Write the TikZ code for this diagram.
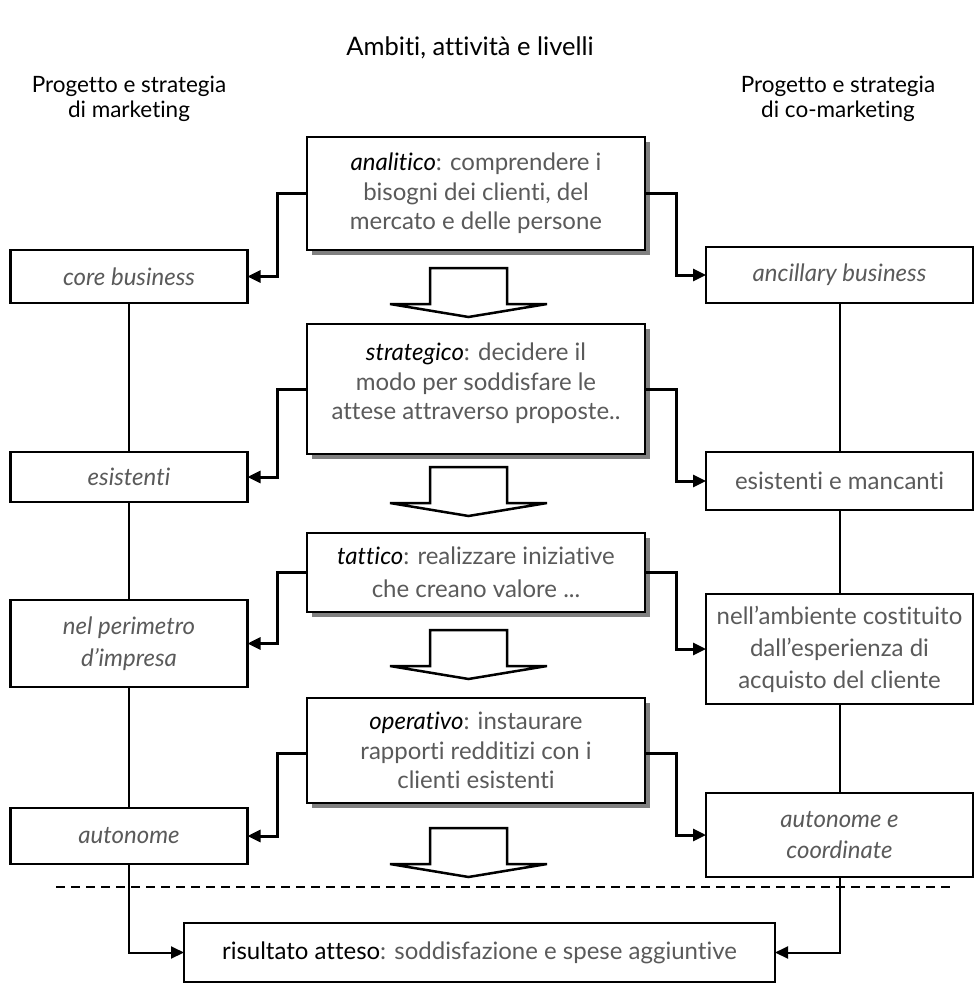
\documentclass[tikz,border=0pt]{standalone}
\usepackage{fontspec}
\setmainfont{Lato}[Ligatures=NoCommon]
\usetikzlibrary{arrows.meta,shadows}
\definecolor{txt}{HTML}{5A5A5A}
\definecolor{shd}{HTML}{808080}
\begin{document}
\begin{tikzpicture}[x=1pt,y=-1pt,
  every node/.style={inner sep=0pt, outer sep=0pt, align=center, text=txt, font=\fontsize{24}{29.5}\selectfont},
  mainbox/.style={draw=black, line width=2.8pt, fill=white, minimum width=338pt,
    general shadow={fill=shd, shadow xshift=5pt, shadow yshift=-5pt}},
  sidebox/.style={draw=black, line width=2.4pt, fill=white},
  lbox/.style={sidebox, minimum width=237pt},
  rbox/.style={sidebox, minimum width=267pt},
  conn/.style={line width=3pt, -{Triangle[length=13pt,width=12pt]}},
  vline/.style={line width=2pt},
  rconn/.style={line width=2pt, -{Triangle[length=13pt,width=12pt]}},
  head/.style={text=black},
  blockarr/.pic={\draw[line width=2.5pt, fill=white, line join=miter]
     (-38.5,0) -- (38.5,0) -- (38.5,36) -- (78.5,36) -- (0,49) -- (-78.5,36) -- (-38.5,36) -- cycle;}
]
\useasboundingbox (0,0) rectangle (978,984);

% title and headers
\node[head, font=\fontsize{25.5}{30}\selectfont] (title) at (470,48) {Ambiti, attività e livelli};
\node[head, font=\fontsize{22.5}{25}\selectfont] (hl) at (129,99) {Progetto e strategia\\di marketing};
\node[head, font=\fontsize{22.5}{25}\selectfont] (hr) at (838,99) {Progetto e strategia\\di co-marketing};

% central boxes
\node[mainbox, minimum height=113pt] (b1) at (476,193.5)
  {\textit{\textcolor{black}{analitico}}: comprendere i\\bisogni dei clienti, del\\mercato e delle persone};
\node[mainbox, minimum height=130pt] (b2) at (476,389)
  {\textit{\textcolor{black}{strategico}}: decidere il\\modo per soddisfare le\\attese attraverso proposte..\\[-14pt]\mbox{}};
\node[mainbox, minimum height=79pt, font=\fontsize{24}{33}\selectfont] (b3) at (476,572.5)
  {\textit{\textcolor{black}{tattico}}: realizzare iniziative\\che creano valore ...};
\node[mainbox, minimum height=105pt] (b4) at (476,750.5)
  {\textit{\textcolor{black}{operativo}}: instaurare\\rapporti redditizi con i\\clienti esistenti};

% block arrows
\pic at (468.5,268) {blockarr};
\pic at (468.5,467) {blockarr};
\pic at (468.5,630) {blockarr};
\pic at (468.5,828) {blockarr};

% left boxes
\node[lbox, minimum height=53pt] (l1) at (129,276.5) {\textit{core business}};
\node[lbox, minimum height=50pt] (l2) at (129,477) {\textit{esistenti}};
\node[lbox, minimum height=87pt, font=\fontsize{24}{32}\selectfont] (l3) at (129,643.5) {\textit{nel perimetro}\\\textit{d’impresa}};
\node[lbox, minimum height=56pt] (l4) at (129,836) {\textit{autonome}};

% right boxes
\node[rbox, minimum height=56pt] (r1) at (839.5,275) {\textit{ancillary business}};
\node[rbox, minimum height=58pt] (r2) at (839.5,481) {esistenti e mancanti};
\node[rbox, minimum height=110pt, font=\fontsize{24}{32}\selectfont] (r3) at (839.5,649) {nell’ambiente costituito\\dall’esperienza di\\acquisto del cliente};
\node[rbox, minimum height=84pt, font=\fontsize{24}{31}\selectfont] (r4) at (839.5,835) {\textit{autonome e}\\\textit{coordinate}};

% result box
\node[sidebox, minimum width=591pt, minimum height=59pt] (res) at (479.5,952.5)
  {\textcolor{black}{risultato atteso}: soddisfazione e spese aggiuntive};

% dashed separator
\draw[line width=2pt, dash pattern=on 9pt off 6pt] (56,887) -- (952,887);

% vertical links between side boxes
\draw[vline] (l1.south) -- (l2.north);
\draw[vline] (l2.south) -- (l3.north);
\draw[vline] (l3.south) -- (l4.north);
\draw[vline] (r1.south) -- (r2.north);
\draw[vline] (r2.south) -- (r3.north);
\draw[vline] (r3.south) -- (r4.north);

% elbow connectors
\draw[conn] (b1.west) -- ++(-30,0) |- (l1.east);
\draw[conn] (b1.east) -- ++(31,0) |- (r1.west);
\draw[conn] (b2.west) -- ++(-30,0) |- (l2.east);
\draw[conn] (b2.east) -- ++(31,0) |- (r2.west);
\draw[conn] (b3.west) -- ++(-30,0) |- (l3.east);
\draw[conn] (b3.east) -- ++(31,0) |- (r3.west);
\draw[conn] ([yshift=-2.5pt]b4.west) -- ++(-30,0) |- (l4.east);
\draw[conn] ([yshift=-2.5pt]b4.east) -- ++(31,0) |- (r4.west);

% to result
\draw[rconn] (l4.south) |- (res.west);
\draw[rconn] (r4.south) |- (res.east);
\end{tikzpicture}
\end{document}
